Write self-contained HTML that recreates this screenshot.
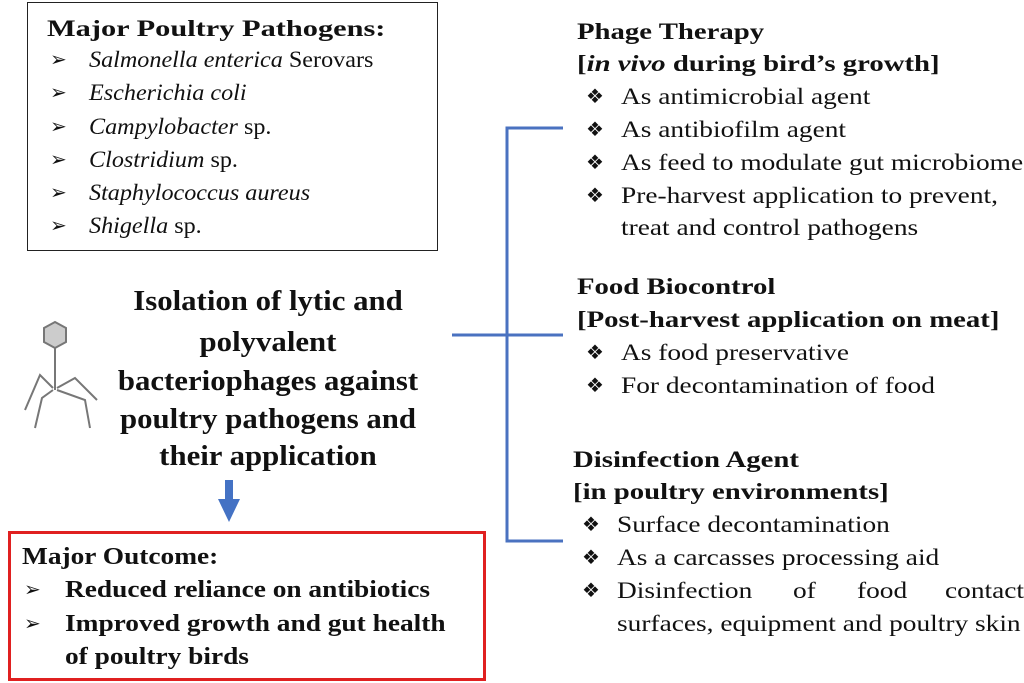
<!DOCTYPE html><html><head><style>
body{margin:0;width:1024px;height:683px;background:#fff;position:relative;overflow:hidden;font-family:"Liberation Serif",serif;color:#111}
.t{position:absolute;white-space:nowrap;line-height:26px;transform-origin:0 0}
.L{font-size:23px;transform:scaleX(1.05)}
.R{font-size:23px;transform:scaleX(1.19)}
.H{font-size:23px;font-weight:bold;transform:scaleX(1.25)}
.O{font-size:24px;font-weight:bold;transform:scaleX(1.14)}
.bu{position:absolute;font-size:20px;line-height:26px}
.b{font-weight:bold}
.box{position:absolute;box-sizing:border-box}
.c{position:absolute;left:20px;width:500px;text-align:center;font-weight:bold;font-size:28px;line-height:30px;transform:scaleX(1.1);transform-origin:270px 0}
</style></head><body>
<div class="box" style="left:27px;top:2px;width:411px;height:249px;border:1.5px solid #222"></div>
<div class="t H" style="left:47px;top:16px;transform:scaleX(1.32)">Major Poultry Pathogens:</div>
<div class="bu" style="left:50px;top:47px">➢</div><div class="t L" style="left:89px;top:47px"><i>Salmonella enterica</i> Serovars</div>
<div class="bu" style="left:50px;top:80px">➢</div><div class="t L" style="left:89px;top:80px"><i>Escherichia coli</i></div>
<div class="bu" style="left:50px;top:114px">➢</div><div class="t L" style="left:89px;top:114px"><i>Campylobacter</i> sp.</div>
<div class="bu" style="left:50px;top:147px">➢</div><div class="t L" style="left:89px;top:147px"><i>Clostridium</i> sp.</div>
<div class="bu" style="left:50px;top:180px">➢</div><div class="t L" style="left:89px;top:180px"><i>Staphylococcus aureus</i></div>
<div class="bu" style="left:50px;top:213px">➢</div><div class="t L" style="left:89px;top:213px"><i>Shigella</i> sp.</div>

<div class="c" style="top:287px">Isolation of lytic and</div>
<div class="c" style="top:328px">polyvalent</div>
<div class="c" style="top:367px">bacteriophages against</div>
<div class="c" style="top:405px">poultry pathogens and</div>
<div class="c" style="top:442px">their application</div>

<svg style="position:absolute;left:0;top:0" width="1024" height="683">
<g stroke="#777" stroke-width="2" fill="none">
<polygon points="55,322 66,328 66,342 55,348 44,342 44,328" fill="#ccc"/>
<line x1="55" y1="348" x2="55" y2="390"/>
<path d="M53,388 L40,375 L25,410"/><path d="M57,388 L75,378 L97,400"/>
<path d="M53,390 L42,398 L35,428"/><path d="M57,390 L85,400 L90,428"/>
</g>
<rect x="225" y="480" width="8" height="20" fill="#4472c4"/>
<polygon points="218,499 240,499 229,522" fill="#4472c4"/>
<g stroke="#4a72c0" stroke-width="3" fill="none">
<path d="M563,128 H507 V541 H563"/><line x1="452" y1="335" x2="563" y2="335"/>
</g>
</svg>

<div class="box" style="left:8px;top:531px;width:478px;height:150px;border:3px solid #e02020"></div>
<div class="t O" style="left:22px;top:544px">Major Outcome:</div>
<div class="bu" style="left:24px;top:577px">➢</div><div class="t O" style="left:65px;top:577px">Reduced reliance on antibiotics</div>
<div class="bu" style="left:24px;top:611px">➢</div><div class="t O" style="left:65px;top:611px">Improved growth and gut health</div>
<div class="t O" style="left:65px;top:644px">of poultry birds</div>

<div class="t H" style="left:577px;top:19px">Phage Therapy</div>
<div class="t H" style="left:577px;top:51px">[<i>in vivo</i> during bird’s growth]</div>
<div class="bu" style="left:586px;top:84px">❖</div><div class="t R" style="left:621px;top:84px">As antimicrobial agent</div>
<div class="bu" style="left:586px;top:117px">❖</div><div class="t R" style="left:621px;top:117px">As antibiofilm agent</div>
<div class="bu" style="left:586px;top:150px">❖</div><div class="t R" style="left:621px;top:150px">As feed to modulate gut microbiome</div>
<div class="bu" style="left:586px;top:183px">❖</div><div class="t R" style="left:621px;top:183px">Pre-harvest application to prevent,</div>
<div class="t R" style="left:621px;top:215px">treat and control pathogens</div>

<div class="t H" style="left:577px;top:274px">Food Biocontrol</div>
<div class="t H" style="left:577px;top:307px">[Post-harvest application on meat]</div>
<div class="bu" style="left:586px;top:340px">❖</div><div class="t R" style="left:621px;top:340px">As food preservative</div>
<div class="bu" style="left:586px;top:373px">❖</div><div class="t R" style="left:621px;top:373px">For decontamination of food</div>

<div class="t H" style="left:573px;top:447px">Disinfection Agent</div>
<div class="t H" style="left:573px;top:479px">[in poultry environments]</div>
<div class="bu" style="left:582px;top:512px">❖</div><div class="t R" style="left:617px;top:512px">Surface decontamination</div>
<div class="bu" style="left:582px;top:545px">❖</div><div class="t R" style="left:617px;top:545px">As a carcasses processing aid</div>
<div class="bu" style="left:582px;top:578px">❖</div>
<div class="t R" style="left:617px;top:578px">Disinfection</div>
<div class="t R" style="left:793px;top:578px">of</div>
<div class="t R" style="left:857px;top:578px">food</div>
<div class="t R" style="left:945px;top:578px">contact</div>
<div class="t R" style="left:617px;top:611px">surfaces, equipment and poultry skin</div>
</body></html>
